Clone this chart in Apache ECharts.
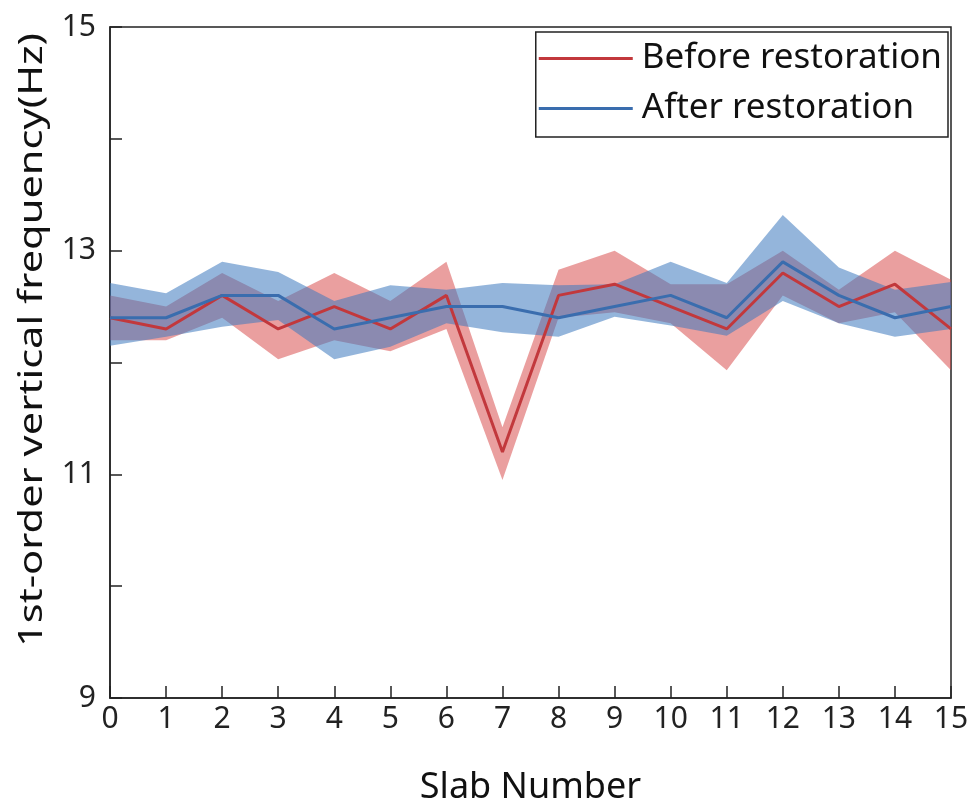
<!DOCTYPE html>
<html>
<head>
<meta charset="utf-8">
<script src="https://cdn.jsdelivr.net/npm/echarts@6/dist/echarts.min.js"></script>
<style>html,body{margin:0;padding:0;background:#fff;}#c{width:980px;height:802px;}</style>
</head>
<body>
<div id="c"></div>
<script>
var slabs = ['0','1','2','3','4','5','6','7','8','9','10','11','12','13','14','15'];
var beforeMean  = [12.4,12.3,12.6,12.3,12.5,12.3,12.6,11.2,12.6,12.7,12.5,12.3,12.8,12.5,12.7,12.3];
var beforeUpper = [12.6,12.5,12.8,12.55,12.8,12.55,12.9,11.42,12.83,13.0,12.7,12.7,13.0,12.65,13.0,12.74];
var beforeLower = [12.2,12.2,12.4,12.03,12.2,12.1,12.3,10.95,12.4,12.45,12.35,11.93,12.6,12.35,12.45,11.93];
var afterMean   = [12.4,12.4,12.6,12.6,12.3,12.4,12.5,12.5,12.4,12.5,12.6,12.4,12.9,12.6,12.4,12.5];
var afterUpper  = [12.71,12.62,12.9,12.81,12.55,12.69,12.65,12.71,12.69,12.7,12.9,12.71,13.32,12.85,12.65,12.72];
var afterLower  = [12.15,12.23,12.32,12.38,12.03,12.14,12.35,12.27,12.23,12.41,12.33,12.24,12.55,12.35,12.23,12.3];
var yTicks = [9,11,13,15];

function diff(up, lo){ return up.map(function(v,i){ return +(v - lo[i]).toFixed(3); }); }

var FONT = 'Noto Sans';
var chart = echarts.init(document.getElementById('c'), null, {renderer:'canvas'});
chart.setOption({
  animation: false,
  backgroundColor: '#fff',
  textStyle: {fontFamily: FONT},
  grid: {left:110, right:29, top:27, bottom:104, containLabel:false, outerBoundsMode:'none',
         show:true, borderColor:'#222', borderWidth:1.5, backgroundColor:'transparent'},
  xAxis: {
    type:'category', data:slabs, boundaryGap:false,
    name:'Slab Number', nameLocation:'middle', nameGap:72,
    nameTextStyle:{fontSize:36, color:'#111', fontFamily:FONT},
    axisLine:{show:true, lineStyle:{color:'#222', width:1.5}},
    axisTick:{show:true, inside:true, length:12, interval:0, lineStyle:{color:'#222', width:1.5}},
    axisLabel:{fontSize:30, color:'#222', margin:6, interval:0, fontFamily:FONT},
    splitLine:{show:false}
  },
  yAxis: {
    type:'value', min:9, max:15, interval:1,
    axisLine:{show:true, lineStyle:{color:'#222', width:1.5}},
    axisTick:{show:true, inside:true, length:12, lineStyle:{color:'#222', width:1.5}},
    axisLabel:{fontSize:30, color:'#222', margin:14, fontFamily:FONT,
      formatter:function(v){ return yTicks.indexOf(v) >= 0 ? String(v) : ''; }},
    splitLine:{show:false}
  },
  legend: {
    data:['Before restoration','After restoration'],
    orient:'vertical', right:32, top:32,
    backgroundColor:'#fff', borderColor:'#222', borderWidth:1.5,
    padding:[9,6,11,3], itemGap:15, itemWidth:94, itemHeight:3, icon:'rect',
    textStyle:{fontSize:35, color:'#111', fontFamily:FONT, padding:[0,0,0,4]}
  },
  graphic: [{
    type:'text', x:33, y:340, rotation:Math.PI/2, scaleX:1.3, z:10,
    style:{text:'1st-order vertical frequency(Hz)', font:'32px "Noto Sans"', fill:'#111', textAlign:'center', textVerticalAlign:'middle'}
  }],
  series: [
    {name:'bLow', type:'line', stack:'bandB', data:beforeLower, symbol:'none', lineStyle:{opacity:0}, silent:true, z:1},
    {name:'bBand', type:'line', stack:'bandB', data:diff(beforeUpper, beforeLower), symbol:'none', lineStyle:{opacity:0}, areaStyle:{color:'rgba(214,70,70,0.52)', opacity:1}, silent:true, z:1},
    {name:'aLow', type:'line', stack:'bandA', data:afterLower, symbol:'none', lineStyle:{opacity:0}, silent:true, z:2},
    {name:'aBand', type:'line', stack:'bandA', data:diff(afterUpper, afterLower), symbol:'none', lineStyle:{opacity:0}, areaStyle:{color:'rgba(60,120,190,0.55)', opacity:1}, silent:true, z:2},
    {name:'Before restoration', type:'line', data:beforeMean, symbol:'none', color:'#c2383c', lineStyle:{color:'#c2383c', width:3}, z:3},
    {name:'After restoration', type:'line', data:afterMean, symbol:'none', color:'#3a6dae', lineStyle:{color:'#3a6dae', width:3}, z:4}
  ]
});
</script>
</body>
</html>
